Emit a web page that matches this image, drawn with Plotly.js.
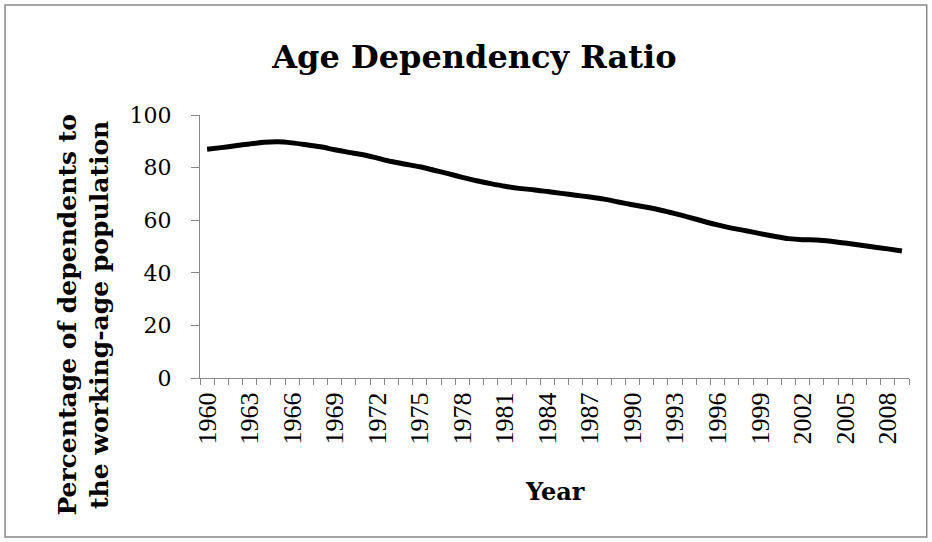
<!DOCTYPE html>
<html>
<head>
<meta charset="utf-8">
<script src="https://cdn.plot.ly/plotly-3.0.1.min.js"></script>
<style>html,body{margin:0;padding:0;background:#fff;}#chart{width:932px;height:542px;}</style>
</head>
<body>
<div id="chart"></div>
<script>
const years = [1960,1961,1962,1963,1964,1965,1966,1967,1968,1969,
  1970,1971,1972,1973,1974,1975,1976,1977,1978,1979,
  1980,1981,1982,1983,1984,1985,1986,1987,1988,1989,
  1990,1991,1992,1993,1994,1995,1996,1997,1998,1999,
  2000,2001,2002,2003,2004,2005,2006,2007,2008,2009];
const ratio = [87.0,87.6,88.3,89.0,89.6,89.8,89.4,88.7,87.9,86.8,
  85.8,84.9,83.6,82.3,81.3,80.3,79.0,77.7,76.3,75.0,
  73.9,72.9,72.1,71.6,70.9,70.2,69.5,68.8,68.0,66.9,
  65.9,64.9,63.8,62.5,61.1,59.6,58.2,57.0,56.0,54.9,
  53.9,53.0,52.6,52.5,52.0,51.3,50.6,49.8,49.1,48.3];
const labelEvery = 3;
const yTicks = [0,20,40,60,80,100];

const cats = years.map(String);
const tickText = years.map((y,i) => (i % labelEvery === 0 ? String(y) : ''));

const trace = {
  x: cats, y: ratio, type: 'scatter', mode: 'lines',
  line: {color: '#000', width: 5, shape: 'spline', smoothing: 0.6},
  hoverinfo: 'x+y'
};

const layout = {
  width: 932, height: 542,
  margin: {l: 200, r: 23, t: 115, b: 164},
  paper_bgcolor: '#fff', plot_bgcolor: '#fff',
  showlegend: false,
  title: {text: '<b>Age Dependency Ratio</b>', x: 0.509, xanchor: 'center', y: 0.895, yanchor: 'middle',
    font: {family: 'DejaVu Serif', size: 32, color: '#000'}},
  xaxis: {
    type: 'category', tickmode: 'array', tickvals: cats, ticktext: tickText,
    tickson: 'boundaries', ticks: 'outside', ticklen: 6, tickcolor: '#888', tickwidth: 1,
    tickangle: -90, showline: true, linecolor: '#888', linewidth: 1, showgrid: false, zeroline: false,
    ticklabelstandoff: 3,
    tickfont: {family: 'Liberation Serif', size: 26, color: '#000'},
    range: [-0.5, years.length - 0.5], fixedrange: true
  },
  yaxis: {
    range: [0, 100], tickmode: 'array', tickvals: yTicks,
    ticks: 'outside', ticklen: 8, tickcolor: '#888', tickwidth: 1,
    showline: true, linecolor: '#888', linewidth: 1, showgrid: false, zeroline: false,
    ticklabelstandoff: 15,
    tickfont: {family: 'DejaVu Serif', size: 22, color: '#000'}, fixedrange: true
  },
  annotations: [
    {text: '<b>Percentage of dependents to<br>the working-age population</b>', textangle: -90,
     xref: 'paper', yref: 'paper', x: -0.164, y: 0.24, xanchor: 'center', yanchor: 'middle',
     showarrow: false, align: 'center', font: {family: 'DejaVu Serif', size: 25, color: '#000'}},
    {text: '<b>Year</b>', xref: 'paper', yref: 'paper', x: 0.5, y: -0.433, xanchor: 'center', yanchor: 'middle',
     showarrow: false, font: {family: 'DejaVu Serif', size: 24, color: '#000'}}
  ],
  shapes: [
    {type: 'rect', xref: 'paper', yref: 'paper', x0: -0.275, x1: 1.025, y0: -0.605, y1: 1.418,
     line: {color: '#888', width: 1.5}, fillcolor: 'rgba(0,0,0,0)', layer: 'below'}
  ]
};

Plotly.newPlot('chart', [trace], layout, {displayModeBar: false, staticPlot: true});
</script>
</body>
</html>
